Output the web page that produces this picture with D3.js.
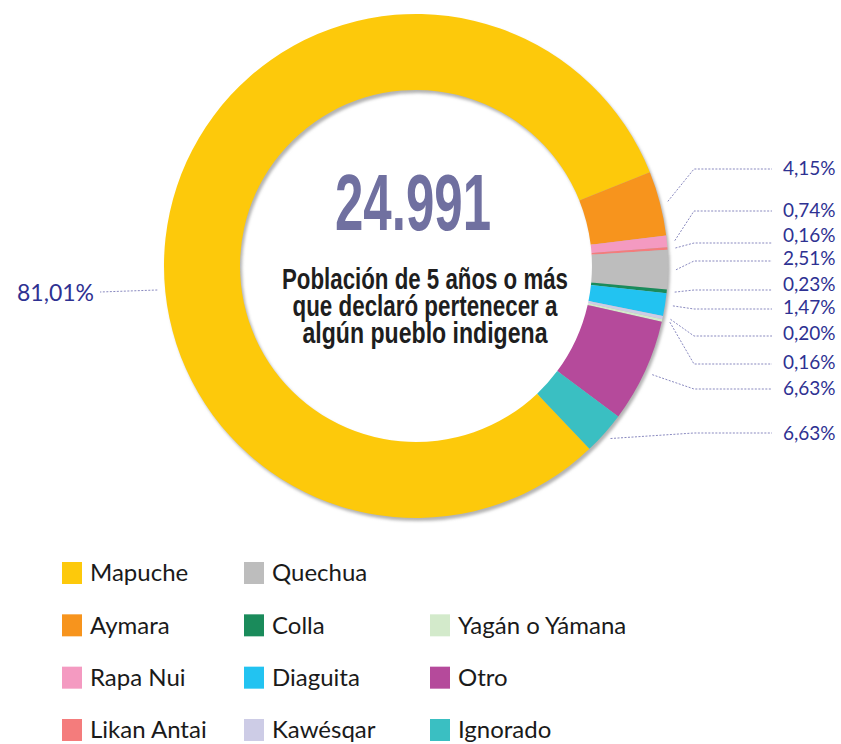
<!DOCTYPE html>
<html>
<head>
<meta charset="utf-8">
<script src="https://cdn.jsdelivr.net/npm/d3@7"></script>
<style>
  body { margin: 0; background: #fff; }
  svg { display: block; }
</style>
</head>
<body>
<div class="vis-donut"></div>
<script>
// data
const categories = ['Mapuche', 'Aymara', 'Rapa Nui', 'Likan Antai', 'Quechua', 'Colla',
    'Diaguita', 'Kawésqar', 'Yagán o Yámana', 'Otro', 'Ignorado'];
const values = [81.01, 4.15, 0.74, 0.16, 2.51, 0.23, 1.47, 0.20, 0.16, 6.63, 2.74];
const labels = ['81,01%', '4,15%', '0,74%', '0,16%', '2,51%', '0,23%', '1,47%', '0,20%', '0,16%', '6,63%', '6,63%'];
const colors = ['#fdc90b', '#f7941d', '#f49ac1', '#f47c7c', '#bdbdbd', '#1a8b5b',
    '#22c3f1', '#cdcce6', '#d3eacb', '#b54a9b', '#3abfc2'];
const total = '24.991';
const subtitle = ['Población de 5 años o más', 'que declaró pertenecer a', 'algún pueblo indigena'];

// layout
const width = 841, height = 744;
const cx = 416, cy = 266;
const outerR = 252, innerR = 176;
const startA = 136.5 * Math.PI / 180;
const lineY = [292, 169, 211, 243, 261, 290, 309, 336, 364, 389, 433];
const textY = [293, 168, 210, 235, 258, 284, 307, 333, 362, 388, 433];
const elbowX = 694, lineEndX = 772, textX = 783;

const dataset = categories.map((c, i) => ({ label: c, value: values[i], text: labels[i], color: colors[i] }));

const svg = d3.select('.vis-donut')
    .append('svg')
    .attr('width', width)
    .attr('height', height);

const defs = svg.append('defs');
defs.append('filter').attr('id', 'blur')
    .append('feGaussianBlur').attr('stdDeviation', 1.5);

const g = svg.append('g')
    .attr('transform', 'translate(' + cx + ',' + cy + ')');

const arc = d3.arc().innerRadius(innerR).outerRadius(outerR);

const pie = d3.pie()
    .value(d => d.value)
    .sort(null)
    .startAngle(startA)
    .endAngle(startA + 2 * Math.PI);

const arcs = pie(dataset);

// soft shadow of the ring
g.append('path')
    .attr('d', d3.arc().innerRadius(innerR).outerRadius(outerR)({ startAngle: 0, endAngle: 2 * Math.PI }))
    .attr('transform', 'translate(2,3)')
    .attr('fill', '#b4b4b4')
    .attr('filter', 'url(#blur)');

g.selectAll('path.slice')
    .data(arcs)
    .enter()
    .append('path')
    .attr('class', 'slice')
    .attr('d', arc)
    .attr('fill', d => d.data.color);

const polar = (a, r) => [r * Math.sin(a), -r * Math.cos(a)];

// leader lines + labels
const lineColor = '#5656a4';
const textColor = '#2e3192';

const addLine = pts => g.append('path')
    .attr('d', d3.line()(pts))
    .attr('fill', 'none')
    .attr('stroke', lineColor)
    .attr('stroke-width', 0.7)
    .attr('stroke-dasharray', '2,1.5');

arcs.forEach((d, i) => {
    if (i === 0) {
        // big slice label on the left
        const y = lineY[0] - cy;
        const r = outerR + 8;
        const x0 = -Math.sqrt(r * r - y * y);
        addLine([[x0, y - 2], [100 - cx, y]]);
        g.append('text')
            .attr('x', 94 - cx)
            .attr('y', textY[0] - cy)
            .attr('dy', '0.35em')
            .attr('text-anchor', 'end')
            .style('font-family', 'Lato, "Open Sans", sans-serif')
            .style('font-size', '23px')
            .attr('fill', textColor)
            .text(d.data.text);
        return;
    }
    const mid = (d.startAngle + d.endAngle) / 2;
    const p0 = polar(mid, outerR + 8);
    const ly = lineY[i] - cy;
    addLine([p0, [elbowX - cx, ly], [lineEndX - cx, ly]]);
    g.append('text')
        .attr('x', textX - cx)
        .attr('y', textY[i] - cy)
        .attr('dy', '0.35em')
        .style('font-family', 'Lato, "Open Sans", sans-serif')
        .style('font-size', '19px')
        .attr('fill', textColor)
        .text(d.data.text);
});

// center text
svg.append('text')
    .attr('x', 413)
    .attr('y', 230)
    .attr('text-anchor', 'middle')
    .attr('textLength', 156)
    .attr('lengthAdjust', 'spacingAndGlyphs')
    .style('font-family', '"Liberation Sans Narrow", "Liberation Sans", Arial, sans-serif')
    .style('font-weight', 'bold')
    .style('font-size', '80px')
    .attr('fill', '#7070a0')
    .text(total);

const subLen = [286, 265, 245];
svg.selectAll('text.sub')
    .data(subtitle)
    .enter()
    .append('text')
    .attr('class', 'sub')
    .attr('x', 425)
    .attr('y', (d, i) => 289 + i * 27)
    .attr('text-anchor', 'middle')
    .attr('textLength', (d, i) => subLen[i])
    .attr('lengthAdjust', 'spacingAndGlyphs')
    .style('font-family', '"Liberation Sans Narrow", "Liberation Sans", Arial, sans-serif')
    .style('font-weight', 'bold')
    .style('font-size', '29px')
    .attr('fill', '#1e1e1e')
    .text(d => d);

// legend, column-major, third column starts on the second row
const colX = [62, 244, 430];
const rowY = d3.scaleLinear().domain([0, 3]).range([573, 730]);
const slot = i => i < 4 ? [0, i] : i < 8 ? [1, i - 4] : [2, i - 7];

const legendG = svg.selectAll('.legend')
    .data(dataset)
    .enter().append('g')
    .attr('class', 'legend')
    .attr('transform', (d, i) => {
        const s = slot(i);
        return 'translate(' + colX[s[0]] + ',' + rowY(s[1]) + ')';
    });

legendG.append('rect')
    .attr('x', 0)
    .attr('y', -11)
    .attr('width', 20)
    .attr('height', 22)
    .attr('fill', d => d.color);

legendG.append('text')
    .attr('x', 28)
    .attr('y', 0)
    .attr('dy', '0.35em')
    .style('font-family', 'Lato, "Open Sans", sans-serif')
    .style('font-size', '24px')
    .attr('fill', '#1a1a1a')
    .text(d => d.label);
</script>
</body>
</html>
